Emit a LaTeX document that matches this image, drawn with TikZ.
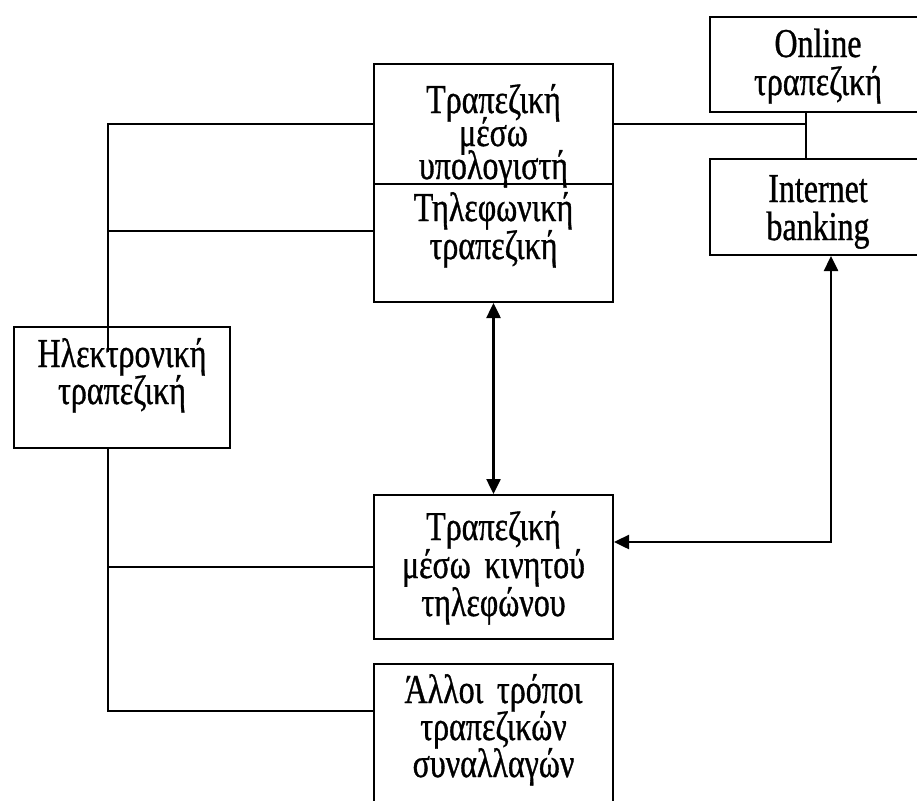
\documentclass[tikz,border=0pt]{standalone}
\usepackage{fontspec}
\setmainfont{Liberation Serif}[FakeStretch=0.78, FakeBold=0.8]
\usetikzlibrary{calc, arrows.meta}

\newcommand{\tightlines}{\lineskiplimit=-100pt\relax\lineskip=0pt\relax}

\begin{document}
\begin{tikzpicture}[x=1pt, y=-1pt,
    box/.style={draw=black, line width=2pt, rectangle, anchor=north west, inner sep=0pt},
    caption/.style={anchor=base, align=center, text width=236pt, inner sep=0pt,
        font=\fontsize{41}{#1}\selectfont\tightlines},
    link/.style={draw=black, line width=2pt},
    twoway/.style={draw=black, line width=2.5pt,
        {Triangle[length=15pt,width=14pt]}-{Triangle[length=15pt,width=14pt]}}]

    % Fix the page
    \useasboundingbox (0,0) rectangle (917,800);
    \clip (0,0) rectangle (917,800);

    % Draw the boxes
    \node[box, minimum width=239pt, minimum height=120pt] (pc) at (373,63) {};
    \node[box, minimum width=239pt, minimum height=118pt] (tel) at (373,183) {};
    \node[box, minimum width=216pt, minimum height=121pt] (el) at (13,326) {};
    \node[box, minimum width=239pt, minimum height=144pt] (mob) at (373,494) {};
    \node[box, minimum width=239pt, minimum height=160pt] (other) at (373,663) {};
    \node[box, minimum width=216pt, minimum height=95pt] (online) at (709,16) {};
    \node[box, minimum width=216pt, minimum height=96pt] (ib) at (709,158) {};

    % Label the boxes
    \node[caption=33] (pcText) at ($(pc.north)+(0,50)$) {Τραπεζική\\μέσω\\υπολογιστή};
    \node[caption=38] (telText) at ($(tel.north)+(0,38)$) {Τηλεφωνική\\τραπεζική};
    \node[caption=37] (elText) at ($(el.north)+(0,41)$) {Ηλεκτρονική\\τραπεζική};
    \node[caption=38] (mobText) at ($(mob.north)+(0,46)$) {Τραπεζική\\μέσω κινητού\\τηλεφώνου};
    \node[caption=37] (otherText) at ($(other.north)+(0,40)$) {Άλλοι τρόποι\\τραπεζικών\\συναλλαγών};
    \node[caption=38] (onlineText) at ($(online.north)+(0,41)$) {Online\\τραπεζική};
    \node[caption=38] (ibText) at ($(ib.north)+(0,44)$) {Internet\\banking};

    % Define the joints
    \coordinate (trunkTop) at (108,352);
    \coordinate (telJoin) at ($(tel.west)+(0,-12)$);
    \coordinate (otherJoin) at ($(other.west)+(0,-33)$);
    \coordinate (join) at ($(online.south)+(-12,0)$);

    % Draw the left trunk
    \draw[link] (trunkTop) |- (pc.west);
    \draw[link] (telJoin) -- (telJoin -| trunkTop);
    \draw[link] (el.south -| trunkTop) |- (otherJoin);
    \draw[link] (mob.west) -- (mob.west -| trunkTop);

    % Draw the right links
    \draw[link] (pc.east) -- (pc.east -| join);
    \draw[link] (join) -- (join |- ib.north);

    % Draw the arrows
    \draw[twoway] (tel.south) -- (mob.north);
    \draw[twoway] ($(ib.south)+(13,0)$) |- ($(mob.east)+(0,-25)$);

\end{tikzpicture}
\end{document}
